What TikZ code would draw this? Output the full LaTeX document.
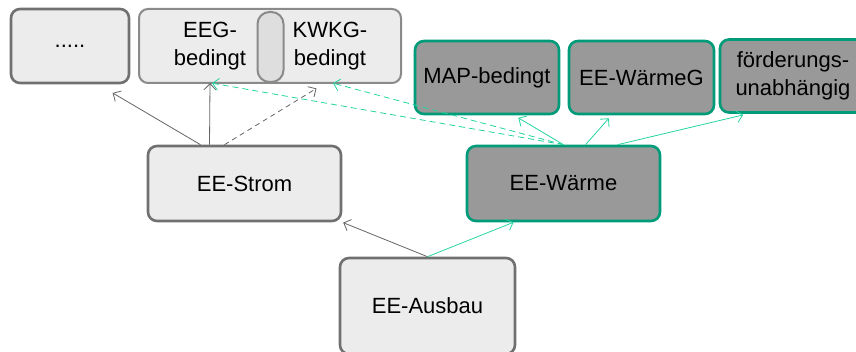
\documentclass[tikz,border=0pt]{standalone}
\usepackage{fontspec}
\setmainfont{Liberation Sans}
\usetikzlibrary{positioning}
\usetikzlibrary{arrows.meta}
\definecolor{rahmengrau}{RGB}{112,112,112}
\definecolor{rahmenhell}{RGB}{138,138,138}
\definecolor{fuellhell}{RGB}{236,236,236}
\definecolor{fuellfuge}{RGB}{222,222,222}
\definecolor{fuelldunkel}{RGB}{153,153,153}
\definecolor{gruenrand}{RGB}{0,155,120}
\definecolor{gruenpfeil}{RGB}{35,212,160}
\definecolor{pfeilgrau}{RGB}{100,100,100}
\tikzset{
    box/.style={
		rounded corners=9pt, inner sep=0pt, align=center,
		font=\fontsize{22}{28}\selectfont
	}
}
\tikzset{
    grauBox/.style={box, draw=rahmengrau, line width=2.6pt, fill=fuellhell},
    hellBox/.style={box, draw=rahmenhell, line width=2pt, fill=fuellhell},
    gruenBox/.style={box, draw=gruenrand, line width=2.6pt, fill=fuelldunkel}
}
\tikzset{
    grauPfeil/.style={->, draw=pfeilgrau, line width=0.8pt},
    gruenPfeil/.style={->, draw=gruenpfeil, line width=0.8pt}
}

\begin{document}
\begin{tikzpicture}[x=1pt, y=1pt, >={Straight Barb[length=6pt,width=12pt]}]
			\useasboundingbox (0,0) rectangle (856,-352);
			\clip (0,0) rectangle (856,-352);
			% obere Reihe
			\node[grauBox, minimum width=118pt, minimum height=74pt] (dots) at (70,-46) {.....};
			\node[hellBox, minimum width=262pt, minimum height=74pt] (foerd) at (270,-46) {};
			\node[hellBox, fill=fuellfuge, rounded corners=12pt, minimum width=26pt, minimum height=70pt] (fuge) at (270.5,-47) {};
			\node[box, minimum height=74pt] (eeg) at (210,-46) {EEG-\\bedingt};
			\node[box, minimum height=74pt] (kwkg) at (330,-46) {KWKG-\\bedingt};
			\node[gruenBox, minimum width=144pt, minimum height=73pt] (map) at (487,-77.5) {MAP-bedingt};
			\node[gruenBox, minimum width=145pt, minimum height=73pt] (wg) at (641.5,-77.5) {EE-WärmeG};
			\node[gruenBox, minimum width=146pt, minimum height=73pt] (unab) at (793,-76) {förderungs-\\unabhängig};
			% mittlere Reihe
			\node[grauBox, minimum width=193pt, minimum height=75pt] (strom) at (244.5,-183.5) {EE-Strom};
			\node[gruenBox, minimum width=193pt, minimum height=75pt] (waerme) at (563.5,-183.5) {EE-Wärme};
			% unten
			\node[grauBox, minimum width=175pt, minimum height=96pt] (ausbau) at (427.5,-306) {EE-Ausbau};
			% Pfeile
			\draw[grauPfeil, shorten >=17pt] ([xshift=-44pt]strom.north) -- ([xshift=28pt]dots.south);
			\draw[grauPfeil] ([xshift=-35pt]strom.north) -- (eeg.south);
			\draw[grauPfeil, dash pattern=on 5pt off 4pt, shorten >=10pt] ([xshift=-20pt]strom.north) -- ([xshift=-5pt]kwkg.south);
			\draw[gruenPfeil, dash pattern=on 6pt off 4pt] (waerme.north) -- ([xshift=2pt]eeg.south);
			\draw[gruenPfeil, dash pattern=on 6pt off 4pt] (waerme.north) -- ([xshift=3pt]kwkg.south);
			\draw[gruenPfeil, shorten >=5pt] (waerme.north) -- ([xshift=27pt]map.south);
			\draw[gruenPfeil, shorten >=4pt] ([xshift=22pt]waerme.north) -- ([xshift=-30pt]wg.south);
			\draw[gruenPfeil, shorten >=5pt] ([xshift=54pt]waerme.north) -- ([xshift=-45pt]unab.south);
			\draw[grauPfeil, shorten >=1pt] (ausbau.north) -- (strom.south east);
			\draw[gruenPfeil] (ausbau.north) -- ([xshift=-50pt]waerme.south);
	\end{tikzpicture}
\end{document}
